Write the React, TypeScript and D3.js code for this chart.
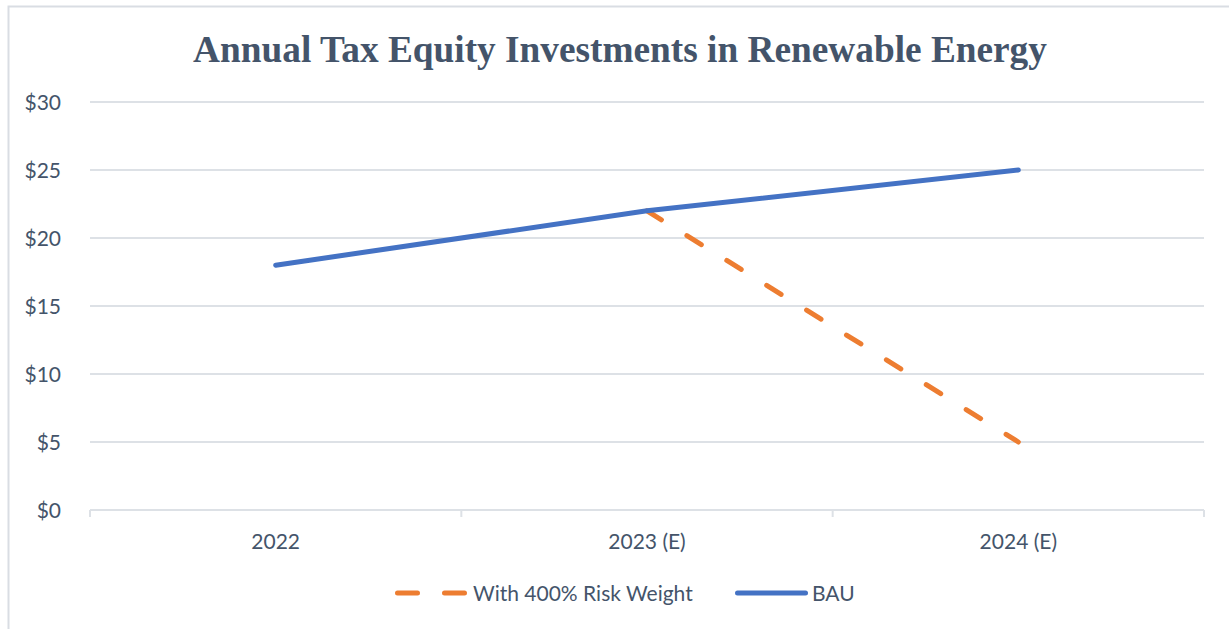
import { useEffect, useRef } from 'react';
import * as d3 from 'd3';

const categories = ['2022', '2023 (E)', '2024 (E)'];
const riskWeightValues: (number | null)[] = [null, 22, 5];
const bauValues = [18, 22, 25];
const yTicks = [0, 5, 10, 15, 20, 25, 30];

const TEXT = '#44546a';
const GRID = '#dde1e6';
const FONT = 'Lato, "Open Sans", sans-serif';

const App = (): JSX.Element => {
  const svgRef = useRef<SVGSVGElement>(null);

  useEffect(() => {
    const width = 1229;
    const height = 629;
    const margin = { top: 102, right: 25, bottom: 119, left: 90 };

    const svg = d3.select(svgRef.current);
    svg.selectAll('*').remove();

    // chart frame
    svg.append('rect')
      .attr('x', 8.5).attr('y', 6.5)
      .attr('width', width + 10).attr('height', height + 10)
      .attr('fill', 'white')
      .attr('stroke', '#d9dde3')
      .attr('stroke-width', 2);

    svg.append('text')
      .attr('x', 620).attr('y', 62)
      .attr('text-anchor', 'middle')
      .attr('font-family', '"Liberation Serif", "Times New Roman", serif')
      .attr('font-weight', 'bold')
      .attr('font-size', 37.3)
      .attr('fill', TEXT)
      .text('Annual Tax Equity Investments in Renewable Energy');

    const x = d3.scaleBand<string>()
      .domain(categories)
      .range([margin.left, width - margin.right]);

    const y = d3.scaleLinear()
      .domain([0, 30])
      .range([height - margin.bottom, margin.top]);

    const g = svg.append('g');

    g.selectAll('line.grid')
      .data(yTicks)
      .enter()
      .append('line')
      .attr('class', 'grid')
      .attr('x1', margin.left).attr('x2', width - margin.right)
      .attr('y1', d => y(d)).attr('y2', d => y(d))
      .attr('stroke', GRID)
      .attr('stroke-width', 2);

    // category tick marks
    const edges = [...categories.map(c => x(c) as number), width - margin.right];
    g.selectAll('line.tick')
      .data(edges)
      .enter()
      .append('line')
      .attr('x1', d => d).attr('x2', d => d)
      .attr('y1', y(0)).attr('y2', y(0) + 7)
      .attr('stroke', GRID)
      .attr('stroke-width', 2);

    g.selectAll('text.ylab')
      .data(yTicks)
      .enter()
      .append('text')
      .attr('x', 61)
      .attr('y', d => y(d) + 7.5)
      .attr('text-anchor', 'end')
      .attr('font-family', FONT)
      .attr('font-size', 21)
      .attr('fill', TEXT)
      .text(d => `$${d}`);

    g.selectAll('text.xlab')
      .data(categories)
      .enter()
      .append('text')
      .attr('x', d => (x(d) as number) + x.bandwidth() / 2)
      .attr('y', y(0) + 39)
      .attr('text-anchor', 'middle')
      .attr('font-family', FONT)
      .attr('font-size', 21)
      .attr('fill', TEXT)
      .text(d => d);

    const line = d3.line<number | null>()
      .defined(d => d !== null)
      .x((_d, i) => (x(categories[i]) as number) + x.bandwidth() / 2)
      .y(d => y(d as number));

    g.append('path')
      .datum(riskWeightValues)
      .attr('d', line)
      .attr('fill', 'none')
      .attr('stroke', '#ed7d31')
      .attr('stroke-width', 5)
      .attr('stroke-linecap', 'round')
      .attr('stroke-dasharray', '17,30');

    g.append('path')
      .datum(bauValues)
      .attr('d', line)
      .attr('fill', 'none')
      .attr('stroke', '#4472c4')
      .attr('stroke-width', 5)
      .attr('stroke-linecap', 'round');

    // legend
    const ly = 593;
    const legend = svg.append('g');
    legend.append('line')
      .attr('x1', 397.5).attr('x2', 464.5)
      .attr('y1', ly).attr('y2', ly)
      .attr('stroke', '#ed7d31')
      .attr('stroke-width', 5)
      .attr('stroke-linecap', 'round')
      .attr('stroke-dasharray', '20,27');
    legend.append('text')
      .attr('x', 473).attr('y', ly + 7.5)
      .attr('font-family', FONT)
      .attr('font-size', 21)
      .attr('fill', TEXT)
      .text('With 400% Risk Weight');
    legend.append('line')
      .attr('x1', 737.5).attr('x2', 805.5)
      .attr('y1', ly).attr('y2', ly)
      .attr('stroke', '#4472c4')
      .attr('stroke-width', 5)
      .attr('stroke-linecap', 'round');
    legend.append('text')
      .attr('x', 812).attr('y', ly + 7.5)
      .attr('font-family', FONT)
      .attr('font-size', 21)
      .attr('fill', TEXT)
      .text('BAU');
  }, []);

  return (
    <svg ref={svgRef} width={1229} height={629}
      style={{ position: 'absolute', left: 0, top: 0 }} />
  );
};

export default App;
